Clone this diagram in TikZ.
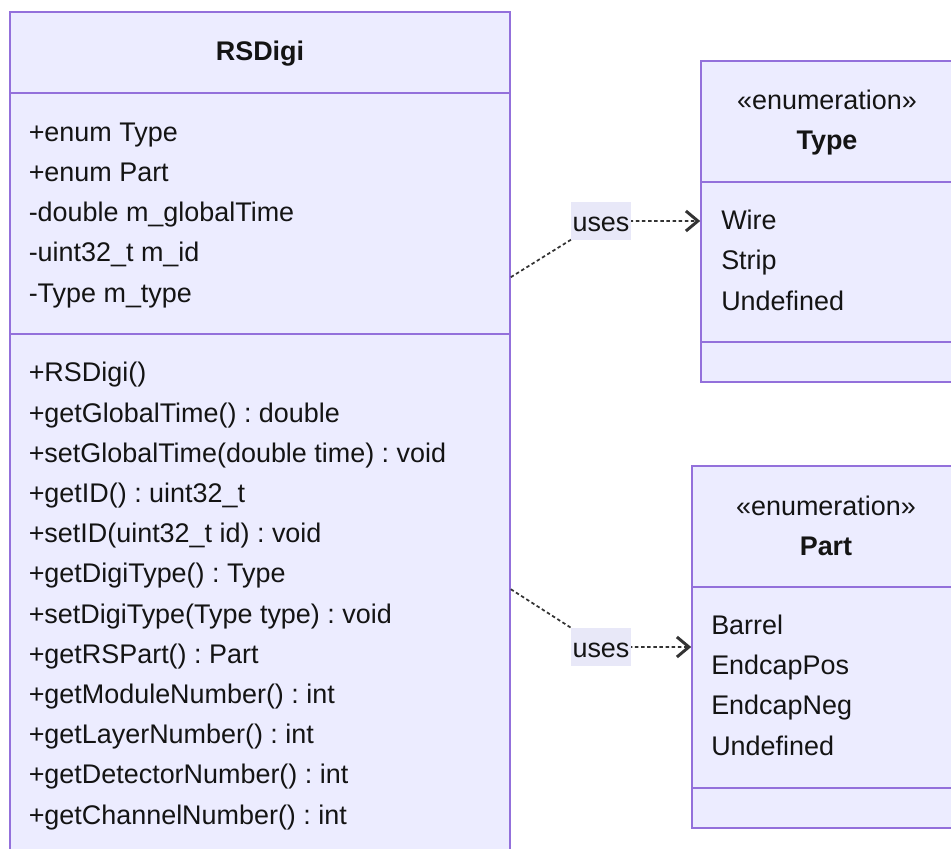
\documentclass[tikz,border=0pt]{standalone}
\usepackage{fontspec}
\setmainfont{Liberation Sans}
\usepackage{tikz}
\usetikzlibrary{arrows.meta,positioning,calc,fit}
\definecolor{classfill}{HTML}{ECECFF}
\definecolor{classborder}{HTML}{9370DB}
\definecolor{edgegray}{HTML}{333333}
\definecolor{labelfill}{HTML}{E8E8F8}
\newcommand{\umlfont}{\fontsize{20.2}{30.15}\selectfont}
\frenchspacing

\begin{document}
\begin{tikzpicture}[
  x=0.75pt, y=-0.75pt,
  every node/.style={font=\umlfont, text=black!92},
  classbox/.style={
    rectangle, draw=classborder, line width=1.2pt,
    fill=classfill, inner sep=0pt
  },
  sepline/.style={draw=classborder, line width=1.2pt},
  classname/.style={font=\umlfont\bfseries, anchor=base, inner sep=0pt},
  stereotype/.style={anchor=base, inner sep=0pt},
  % multi-line members: placed by the baseline of their last line
  members/.style={align=left, anchor=base west, inner sep=0pt},
  useedge/.style={
    draw=edgegray, line width=1.3pt, dash pattern=on 2.6pt off 2pt,
    -{Straight Barb[length=9pt, width=15pt, line width=2.2pt]}
  },
  edgelabel/.style={
    fill=labelfill, inner xsep=1pt, minimum height=29pt,
    text height=15pt, text depth=0pt
  }
]
\useasboundingbox (0,0) rectangle (951,849);
\clip (0,0) rectangle (951,849);

% RSDigi class (runs off the bottom edge)
\node[classbox, fit={(10,12) (510,900)}] (rsdigi) {};
\draw[sepline] (rsdigi.west |- 0,93) -- (rsdigi.east |- 0,93);
\draw[sepline] (rsdigi.west |- 0,334) -- (rsdigi.east |- 0,334);
\node[classname] (rsdigiName) at (260,61) {RSDigi};
\node[members] (rsdigiAttrs) at (28.5,302) {%
  +enum Type\\
  +enum Part\\
  -double m\_globalTime\\
  -uint32\_t m\_id\\
  -Type m\_type};
\node[members] (rsdigiOps) at (28.5,824) {%
  +RSDigi()\\
  +getGlobalTime() : double\\
  +setGlobalTime(double time) : void\\
  +getID() : uint32\_t\\
  +setID(uint32\_t id) : void\\
  +getDigiType() : Type\\
  +setDigiType(Type type) : void\\
  +getRSPart() : Part\\
  +getModuleNumber() : int\\
  +getLayerNumber() : int\\
  +getDetectorNumber() : int\\
  +getChannelNumber() : int};

% Type enumeration
\node[classbox, fit={(701,61) (953,382)}] (type) {};
\draw[sepline] (type.west |- 0,182) -- (type.east |- 0,182);
\draw[sepline] (type.west |- 0,342) -- (type.east |- 0,342);
\node[stereotype] (typeStereo) at (827,110) {«enumeration»};
\node[classname] (typeName) at (827,150) {Type};
\node[members] (typeValues) at (721,310) {%
  Wire\\
  Strip\\
  Undefined};

% Part enumeration
\node[classbox, fit={(692,466) (960,828)}] (part) {};
\draw[sepline] (part.west |- 0,587) -- (part.east |- 0,587);
\draw[sepline] (part.west |- 0,788) -- (part.east |- 0,788);
\node[stereotype] (partStereo) at (826,515) {«enumeration»};
\node[classname] (partName) at (826,555) {Part};
\node[members] (partValues) at (711,755) {%
  Barrel\\
  EndcapPos\\
  EndcapNeg\\
  Undefined};

% dependencies
\coordinate (uses1) at (601,221);
\coordinate (uses2) at (601,647);
\draw[useedge] ($(rsdigi.north east)+(0,266)$) -- (uses1) -- (type.west |- uses1);
\draw[useedge] ($(rsdigi.north east)+(0,578)$) -- (uses2) -- (part.west |- uses2);
\node[edgelabel] (uses1Label) at (uses1) {uses};
\node[edgelabel] (uses2Label) at (uses2) {uses};

\end{tikzpicture}
\end{document}
